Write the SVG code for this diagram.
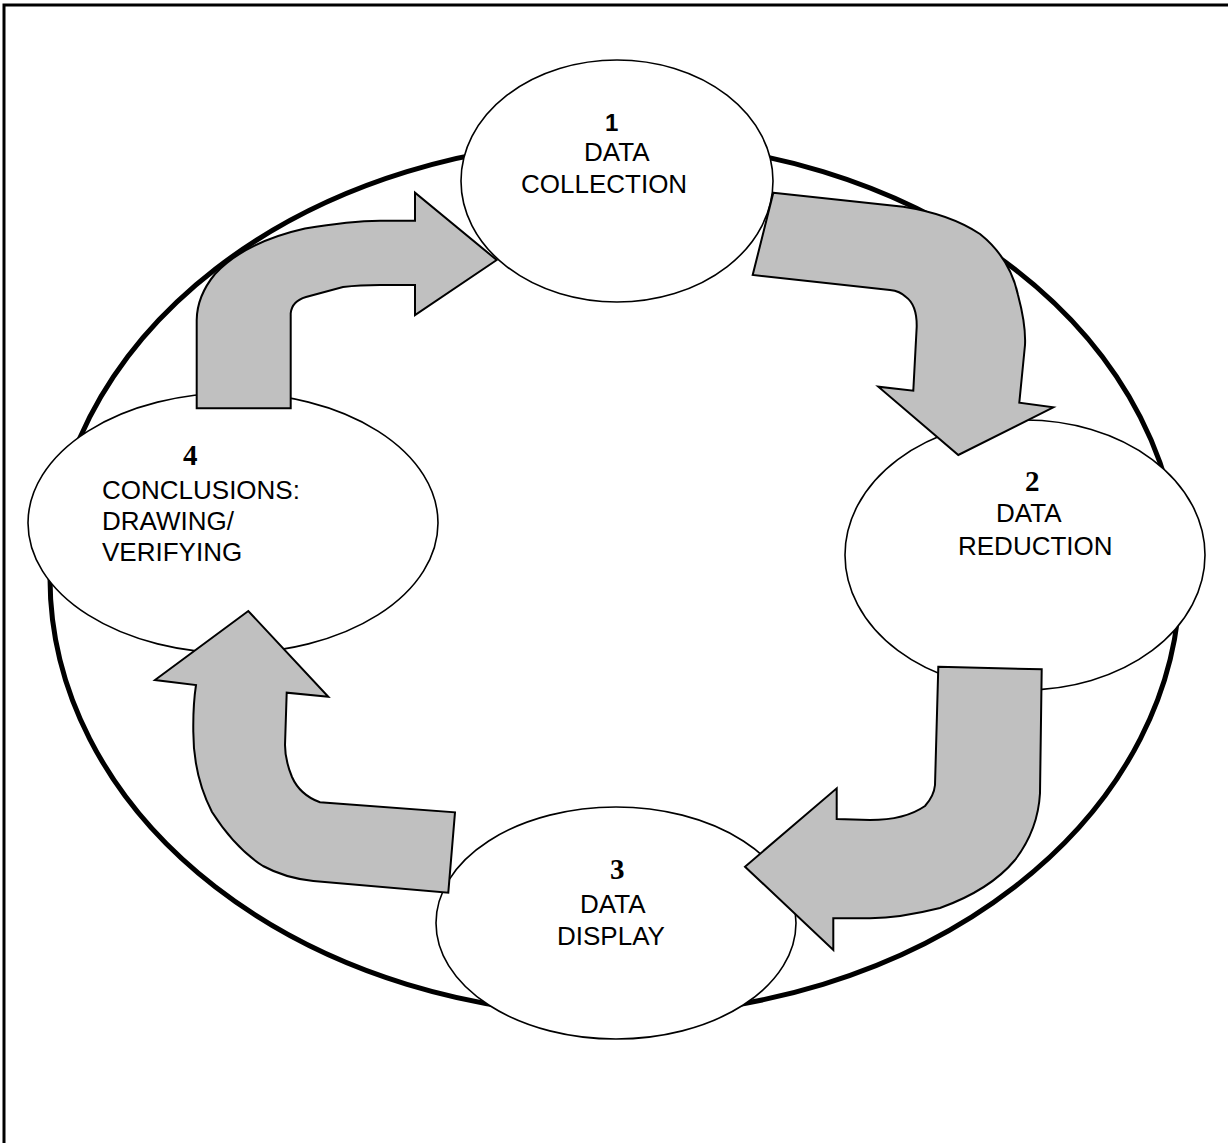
<svg xmlns="http://www.w3.org/2000/svg" width="1228" height="1143" viewBox="0 0 1228 1143">
  <style>
    .frame { fill: none; stroke: #000; stroke-width: 3; }
    .ring { fill: none; stroke: #000; stroke-width: 5; }
    .node { fill: #fff; stroke: #000; stroke-width: 1.6; }
    .arrow { fill: #c0c0c0; stroke: #000; stroke-width: 2; stroke-linejoin: miter; }
    .num-sans { font-family: "Liberation Sans", Arial, sans-serif; font-weight: bold; font-size: 24px; fill: #000; }
    .num { font-family: "Liberation Serif", "Times New Roman", serif; font-weight: bold; font-size: 29px; fill: #000; }
    .lbl { font-family: "Liberation Sans", Arial, sans-serif; font-size: 26px; fill: #000; }
  </style>

  <rect x="0" y="0" width="1228" height="1143" fill="#fff"/>

  <!-- page frame: only the top and left edges fall inside the view -->
  <polyline class="frame" points="1230,5 4,5 4,1145"/>

  <!-- large cycle ring -->
  <ellipse class="ring" cx="615" cy="578" rx="565" ry="437"/>

  <!-- stage nodes -->
  <g id="node-1">
    <ellipse class="node" cx="617" cy="181" rx="156" ry="121"/>
    <text class="num-sans" x="605" y="131">1</text>
    <text class="lbl" x="584" y="161">DATA</text>
    <text class="lbl" x="521" y="193">COLLECTION</text>
  </g>

  <g id="node-2">
    <ellipse class="node" cx="1025" cy="555" rx="180" ry="135"/>
    <text class="num" x="1025" y="491">2</text>
    <text class="lbl" x="996" y="522">DATA</text>
    <text class="lbl" x="958" y="555">REDUCTION</text>
  </g>

  <g id="node-3">
    <ellipse class="node" cx="616" cy="923" rx="180" ry="116"/>
    <text class="num" x="610" y="879">3</text>
    <text class="lbl" x="580" y="913">DATA</text>
    <text class="lbl" x="557" y="945">DISPLAY</text>
  </g>

  <g id="node-4">
    <ellipse class="node" cx="233" cy="523" rx="205" ry="130"/>
    <text class="num" x="183" y="465">4</text>
    <text class="lbl" x="102" y="499">CONCLUSIONS:</text>
    <text class="lbl" x="102" y="530">DRAWING/</text>
    <text class="lbl" x="102" y="561">VERIFYING</text>
  </g>

  <!-- curved block arrows linking the stages -->
  <g id="connectors">
    <!-- 4 to 1 -->
    <path class="arrow" d="M196.7,408.3 L290.7,408.3 L290.7,313.3 Q292,301 306,297 L343,287 Q360,285 380,285 L415,285 L415,315 L496.7,260 L415,192.7 L415,220.7 L380,220.7 Q350,221 305,228.5 Q245,242 215,274 Q197,296 196.7,320 Z"/>
    <!-- 1 to 2 -->
    <path class="arrow" d="M773.3,192.7 L903.3,206.7 Q950,214 980,234 Q1010,258 1018,295 Q1026,325 1025,345 L1019.3,402.7 L1053.3,407.3 L958.3,455 L878.3,386.7 L913.3,390.7 L916.7,326.7 Q917,305 906,297 Q900,291 890,290 L752.7,275 Z"/>
    <!-- 2 to 3 -->
    <path class="arrow" d="M938.3,666.7 L1041.7,669.3 L1040,793.3 Q1038,830 1015,860 Q990,890 940,908 Q900,918 870,918.3 L833.3,918.3 L833.3,950 L745,866.7 L836.7,788.3 L836.7,819 L870,820 Q905,820 925,806 Q934,796 935,785 Z"/>
    <!-- 3 to 4 -->
    <path class="arrow" d="M448.3,892.7 L455,812.3 L320,802.3 Q300,795 292,777 Q285,760 285,745 L286.7,692.7 L328.3,696.7 L248.3,611 L155,680 L196,685 Q193,705 193.3,730 Q193,775 212,812 Q235,848 263,866 Q285,878 313.3,881 Z"/>
  </g>
</svg>
